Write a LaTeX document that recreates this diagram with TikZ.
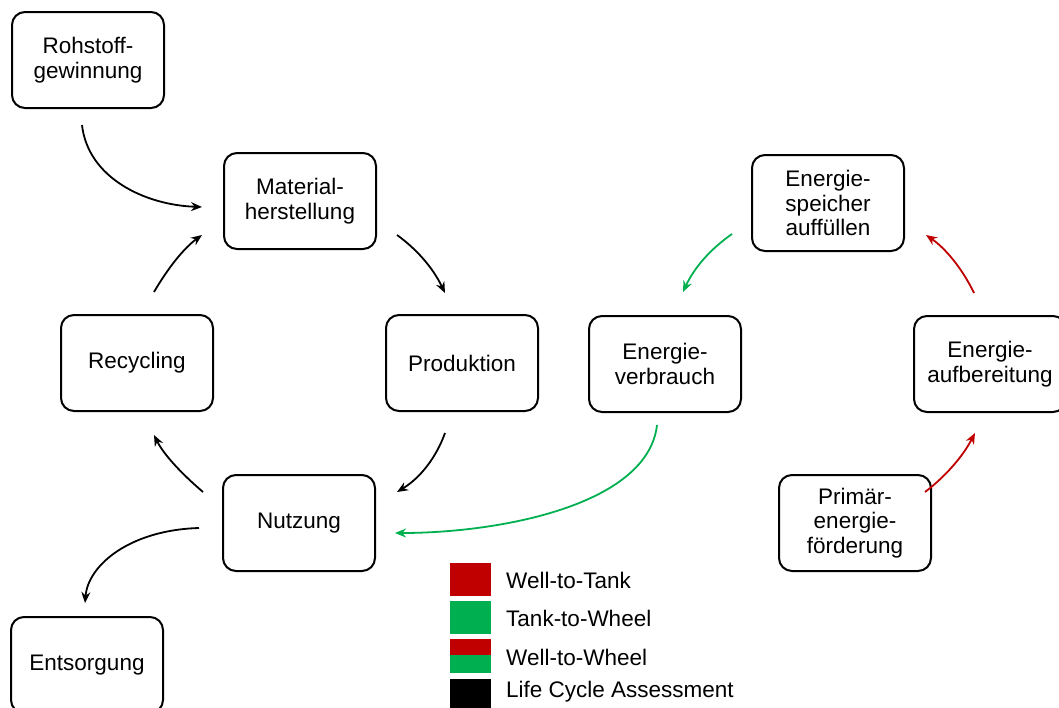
\documentclass[tikz,border=0pt]{standalone}
\usepackage{fontspec}
\setmainfont{Liberation Sans}
\usetikzlibrary{arrows.meta}
\definecolor{wtt}{HTML}{C00000}
\definecolor{ttw}{HTML}{00B050}
\begin{document}
\begin{tikzpicture}[x=1pt,y=-1pt,
  box/.style={draw, line width=2pt, rounded corners=13pt, minimum width=152pt, minimum height=96pt, align=center, font=\fontsize{22.5}{24.5}\selectfont, inner sep=2pt},
  conn/.style={line width=1.8pt, -{Stealth[length=11pt,width=9pt]}},
  legtext/.style={anchor=west, font=\fontsize{22.5}{24.5}\selectfont, inner sep=0pt},
  legsq/.style={minimum width=41pt, minimum height=33pt, inner sep=0pt}]
\useasboundingbox (0,0) rectangle (1059,707);
% boxes
\node[box] (roh) at (88,60) {Rohstoff-\\gewinnung};
\node[box] (mat) at (300,201) {Material-\\herstellung};
\node[box] (pro) at (462,363) {Produktion};
\node[box] (rec) at (137,363) {Recycling};
\node[box] (nut) at (299,523) {Nutzung};
\node[box] (ent) at (87,665) {Entsorgung};
\node[box] (spe) at (828,203) {Energie-\\speicher\\auffüllen};
\node[box] (ver) at (665,364) {Energie-\\verbrauch};
\node[box] (auf) at (990,364) {Energie-\\aufbereitung};
\node[box] (pri) at (855,523) {Primär-\\energie-\\förderung};
% connector endpoints
\coordinate (a1) at (82,125);  \coordinate (b1) at (202,207);
\coordinate (a2) at (154,292); \coordinate (b2) at (202,235);
\coordinate (a3) at (397,235); \coordinate (b3) at (445,293);
\coordinate (a4) at (445,433); \coordinate (b4) at (397,492);
\coordinate (a5) at (203,492); \coordinate (b5) at (154,435);
\coordinate (a6) at (199,528); \coordinate (b6) at (85,603);
\coordinate (a7) at (657,425); \coordinate (b7) at (395,533);
\coordinate (a8) at (732,234); \coordinate (b8) at (683,292);
\coordinate (a9) at (974,293); \coordinate (b9) at (926,235);
\coordinate (a10) at (925,492); \coordinate (b10) at (975,433);
% black connectors
\draw[conn] (a1) .. controls (88,178) and (145,205) .. (b1);
\draw[conn] (a2) .. controls (168,268) and (184,248) .. (b2);
\draw[conn] (a3) .. controls (415,248) and (432,266) .. (b3);
\draw[conn] (a4) .. controls (436,458) and (420,478) .. (b4);
\draw[conn] (a5) .. controls (182,474) and (164,455) .. (b5);
\draw[conn] (a6) .. controls (130,530) and (88,565) .. (b6);
% green
\draw[conn, ttw] (a7) .. controls (648,505) and (500,533) .. (b7);
\draw[conn, ttw] (a8) .. controls (712,248) and (695,266) .. (b8);
% red
\draw[conn, wtt] (a9) .. controls (962,268) and (945,248) .. (b9);
\draw[conn, wtt] (a10) .. controls (946,476) and (963,456) .. (b10);
% legend
\node[legsq, fill=wtt] (l1) at (470.5,579) {};
\node[legsq, fill=ttw] (l2) at (470.5,617.5) {};
\node[legsq] (l3) at (470.5,656) {};
\fill[wtt] (l3.north west) rectangle ([yshift=-16pt]l3.north east);
\fill[ttw] ([yshift=-16pt]l3.north west) rectangle (l3.south east);
\node[legsq, fill=black] (l4) at (470.5,695) {};
\node[legtext] at (506,580) {Well-to-Tank};
\node[legtext] at (506,618) {Tank-to-Wheel};
\node[legtext] at (506,657) {Well-to-Wheel};
\node[legtext] at (506,692) {Life Cycle Assessment};
\end{tikzpicture}
\end{document}
